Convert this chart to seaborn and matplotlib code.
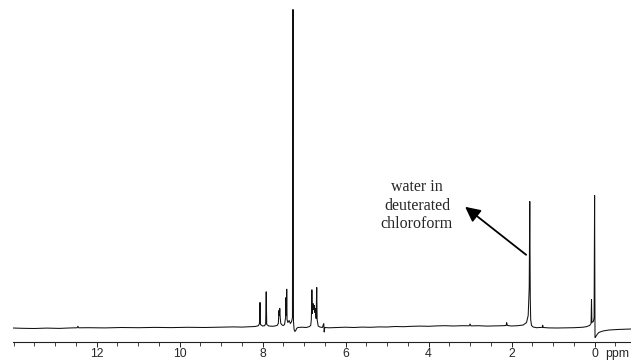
import matplotlib
matplotlib.use("Agg")
import matplotlib.pyplot as plt
import seaborn as sns
import pandas as pd
from matplotlib.ticker import MultipleLocator, FixedLocator

# ---- data: spectrum trace (ppm, intensity in arbitrary units) ----
trace_ppm = [
    14.02, 13.8, 13.5, 13.2, 12.9, 12.6, 12.47, 12.45, 12.43, 12.2, 11.8, 11.4, 11.0,
    10.6, 10.2, 9.8, 9.4, 9.0, 8.7, 8.5, 8.3, 8.18, 8.10, 8.075, 8.062, 8.05, 8.0,
    7.95, 7.925, 7.912, 7.90, 7.85, 7.75, 7.65, 7.62, 7.605, 7.595, 7.585, 7.575,
    7.56, 7.53, 7.50, 7.47, 7.445, 7.435, 7.425, 7.418, 7.41, 7.39, 7.36, 7.33,
    7.30, 7.28, 7.267, 7.255, 7.24, 7.22, 7.20, 7.18, 7.15, 7.05, 6.95, 6.88, 6.84,
    6.825, 6.812, 6.80, 6.785, 6.77, 6.755, 6.74, 6.725, 6.71, 6.695, 6.685, 6.66,
    6.62, 6.56, 6.525, 6.515, 6.50, 6.40, 6.2, 6.0, 5.8, 5.6, 5.4, 5.2, 5.0, 4.8,
    4.6, 4.4, 4.2, 4.0, 3.8, 3.6, 3.4, 3.2, 3.02, 3.0, 2.98, 2.8, 2.6, 2.4, 2.2,
    2.13, 2.12, 2.10, 2.0, 1.85, 1.72, 1.64, 1.60, 1.575, 1.562, 1.55, 1.54, 1.52,
    1.48, 1.40, 1.26, 1.25, 1.24, 1.1, 0.9, 0.7, 0.5, 0.3, 0.2, 0.12, 0.085, 0.075,
    0.065, 0.03, 0.012, 0.0, -0.01, -0.03, -0.06, -0.1, -0.2, -0.35, -0.55, -0.75,
    -0.877,
]
trace_int = [
    -0.5, -0.8, -1.0, -0.6, -0.9, -0.4, -0.3, 1.2, -0.3, -0.2, -0.4, 0.0, -0.2,
    0.1, -0.1, 0.2, 0.0, 0.3, 0.6, 0.4, 0.8, 1.0, 1.8, 4, 25, 3, 1.5,
    1.8, 4, 35.7, 3, 1.5, 1.2, 2, 4, 17, 12, 19, 10,
    4, 2.5, 2, 3, 10, 30, 12, 38.3, 8, 5, 7, 4,
    6, 10, 318, 6, -2, -4, -3, -1, 0, 0.3, 0, 0.8, 2,
    8, 37.7, 14, 24, 18, 22, 15, 19, 9, 40, 8, 1.5,
    0.5, 0, 4, -4.5, 0, -0.3, 0, 0.3, 0, 0.4, 0.2, 0.6, 0.5, 1.0,
    0.8, 1.2, 1.4, 1.2, 1.6, 1.8, 1.5, 1.8, 1.7, 3.5, 1.6, 1.8, 1.4, 1.6, 1.8,
    2, 5, 2, 1.5, 1.8, 2.5, 5, 12, 40, 126, 30, 8, 2,
    0.5, -0.2, 0.2, 2.2, 0, -0.4, -0.5, -0.4, -0.2, 0.2, 0.8, 2, 4, 28,
    5, 6, 10, 132, -10, -9, -7, -5, -3.5, -2.5, -2, -1.7,
    -1.5,
]

tick_values = [12, 10, 8, 6, 4, 2, 0]
tick_labels = ["12", "10", "8", "6", "4", "2", "0"]
annotation_text = "water in\ndeuterated\nchloroform"

df = pd.DataFrame({"ppm": trace_ppm, "intensity": trace_int})

sns.set_style("white")
plt.rcParams["font.family"] = ["Liberation Sans", "DejaVu Sans"]

W, H = 631, 361
fig = plt.figure(figsize=(W / 100, H / 100), dpi=100)
ax = fig.add_axes([12.7 / W, 19.5 / H, (W - 12.7) / W, 336.5 / H])

sns.lineplot(data=df, x="ppm", y="intensity", sort=False, estimator=None,
             color="#111111", linewidth=0.75, ax=ax)

ax.set_xlim(14.02, -0.877)
ax.set_ylim(-14.0, 322.5)

for s in ["left", "right", "top"]:
    ax.spines[s].set_visible(False)
ax.spines["bottom"].set_linestyle((0, (1.5, 1)))
ax.spines["bottom"].set_linewidth(0.8)
ax.spines["bottom"].set_color("#222222")

ax.set_yticks([])
ax.set_xlabel("")
ax.set_ylabel("")
ax.xaxis.set_major_locator(FixedLocator(tick_values))
ax.set_xticklabels(tick_labels)
ax.xaxis.set_minor_locator(MultipleLocator(0.5))
ax.tick_params(axis="x", which="major", direction="out", length=3.8, width=0.7,
               pad=1.0, labelsize=8.8, color="#222222", bottom=True)
ax.tick_params(axis="x", which="minor", direction="out", length=3, width=0.6,
               color="#222222", bottom=True)

ax.annotate("ppm", xy=(-0.55, 0), xycoords=("data", "axes fraction"),
            xytext=(0, -4.8), textcoords="offset points",
            ha="center", va="top", fontsize=8.8)

ax.annotate("", xy=(3.12, 120.7), xytext=(1.65, 72.7),
            arrowprops=dict(arrowstyle="-|>,head_length=0.6,head_width=0.3",
                            mutation_scale=15, lw=1.3, color="black",
                            shrinkA=0, shrinkB=0))
ax.text(4.28, 121.7, annotation_text, ha="center", va="center",
        fontsize=11.5, linespacing=1.2,
        family=["Liberation Serif", "DejaVu Serif"])

fig.savefig("out.png", dpi=100)
